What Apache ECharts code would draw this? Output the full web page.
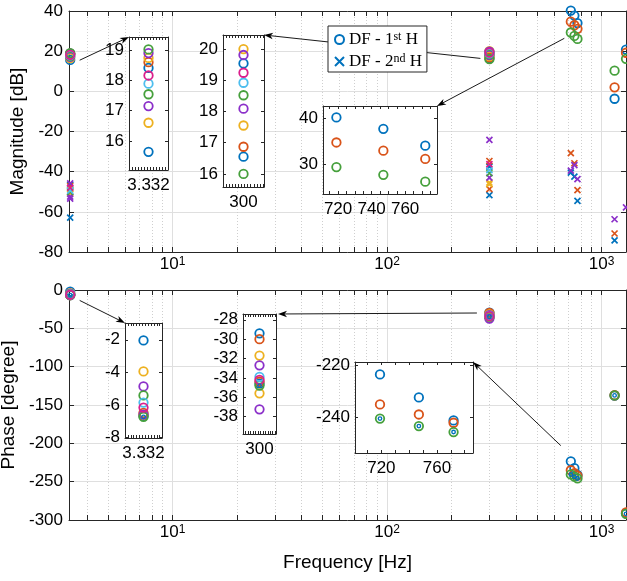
<!DOCTYPE html>
<html><head><meta charset="utf-8">
<script src="https://cdn.jsdelivr.net/npm/echarts@6/dist/echarts.min.js"></script>
<style>html,body{margin:0;padding:0;background:#fff}#c{width:627px;height:581px}</style>
</head><body><div id="c"></div>
<script>
// ---------------- data (frequency [Hz], value, run colour key) ----------------
const magH1 = [
  [3.332,15.64,'b'],[3.332,16.60,'y'],[3.332,17.15,'p'],[3.332,17.54,'g'],[3.332,17.89,'c'],[3.332,18.16,'m'],
  [3.332,18.41,'b'],[3.332,18.60,'o'],[3.332,18.74,'y'],[3.332,18.90,'p'],[3.332,19.02,'g'],
  [300,16.00,'g'],[300,16.55,'b'],[300,16.87,'o'],[300,17.55,'y'],[300,18.09,'p'],[300,18.52,'g'],
  [300,18.92,'c'],[300,19.24,'m'],[300,19.54,'b'],[300,19.81,'p'],[300,20.00,'y'],
  [719,40.2,'b'],[747,37.7,'b'],[772,34.0,'b'],
  [719,34.7,'o'],[747,32.9,'o'],[772,31.1,'o'],
  [719,29.3,'g'],[747,27.6,'g'],[772,26.1,'g'],
  [1150,-3.7,'b'],[1150,2.0,'o'],[1150,10.3,'g'],
  [1300,20.8,'b'],[1300,19.2,'o'],[1300,16.2,'g']
];
const magH2 = [
  [3.332,-45.8,'p'],[3.332,-46.6,'b'],[3.332,-47.2,'o'],[3.332,-48.0,'m'],[3.332,-48.7,'y'],[3.332,-49.4,'c'],
  [3.332,-50.1,'g'],[3.332,-50.8,'y'],[3.332,-52.4,'p'],[3.332,-53.4,'p'],[3.332,-62.9,'b'],
  [300,-24.2,'p'],[300,-34.7,'o'],[300,-36.2,'m'],[300,-37.5,'b'],[300,-39.2,'c'],[300,-40.8,'g'],
  [300,-43.0,'p'],[300,-45.4,'y'],[300,-46.2,'y'],[300,-48.7,'o'],[300,-51.7,'b'],
  [719,-30.8,'o'],[747,-35.8,'o'],[772,-49.2,'o'],
  [719,-40.5,'b'],[747,-42.5,'b'],[772,-54.5,'b'],
  [719,-39.5,'p'],[747,-36.7,'p'],[772,-43.7,'p'],
  [1150,-74.2,'b'],[1150,-70.8,'o'],[1150,-63.7,'p'],
  [1300,-57.8,'p']
];
const phaseH1 = [
  [3.332,-2.04,'b'],[3.332,-3.95,'y'],[3.332,-4.87,'p'],[3.332,-5.42,'g'],[3.332,-5.86,'c'],[3.332,-6.17,'m'],
  [3.332,-6.50,'o'],[3.332,-6.60,'p'],[3.332,-6.62,'y'],[3.332,-6.68,'b'],[3.332,-6.74,'g'],
  [300,-29.4,'b'],[300,-30.0,'o'],[300,-31.7,'y'],[300,-32.7,'p'],[300,-33.9,'c'],[300,-34.2,'m'],
  [300,-34.4,'o'],[300,-34.6,'b'],[300,-34.8,'g'],[300,-35.6,'y'],[300,-37.25,'p'],
  [719,-223.5,'b'],[747,-232.4,'b'],[772,-241.3,'b'],
  [719,-235.1,'o'],[747,-239.0,'o'],[772,-242.2,'o'],
  [719,-240.6,'g'],[747,-243.5,'g'],[772,-245.8,'g'],
  [1150,-137.6,'b'],[1150,-137.3,'o'],[1150,-137.5,'g'],
  [1300,-290.0,'o'],[1300,-291.5,'b'],[1300,-292.0,'g']
];
const phaseRef = [[3.332,-6.74],[300,-34.8],[719,-240.6],[747,-243.5],[772,-245.8],[1150,-137.5],[1300,-292.0]];

// ---------------- ticks / ranges ----------------
const freqRange = [3.29, 1300];
const decadeTicks = [10, 100, 1000];
const magTicks = [-80, -60, -40, -20, 0, 20, 40];
const phaseTicks = [-300, -250, -200, -150, -100, -50, 0];
const insetA_yTicks = [16, 17, 18, 19];
const insetB_yTicks = [16, 17, 18, 19, 20];
const insetC_yTicks = [30, 40];
const insetC_xLabels = [720, 740, 760];
const insetD_yTicks = [-8, -6, -4, -2];
const insetE_yTicks = [-38, -36, -34, -32, -30, -28];
const insetF_yTicks = [-240, -220];
const insetF_xLabels = [720, 760];

// ---------------- styles ----------------
const FONT = '"Liberation Sans", Arial, Helvetica, sans-serif';
const SERIF = '"Liberation Serif", "DejaVu Serif", serif';
const AXC = '#262626';
const palette = {b:'#0072BD', o:'#D95319', y:'#EDB120', p:'#8B2FC9', g:'#46A03C', c:'#4DBEEE', m:'#DB1E8C'};
const colorOrder = ['b','o','y','p','g','c','m'];
const majorSplit = {color:'#dfdfdf', width:1};
const minorSplit = {color:'#cfcfcf', width:1, type:[1,2]};
const LOG = Math.log10;
const X0 = LOG(freqRange[0]), X1 = LOG(freqRange[1]);
const majorX = decadeTicks.map(LOG);
const minorX = [];
[1, 10, 100, 1000].forEach(d => { for (let k = 2; k <= 9; k++) { const v = LOG(k * d); if (v > X0 && v < X1) minorX.push(v); } });
const range = (a, b, s) => { const r = []; for (let v = a; v <= b + 1e-9; v += s) r.push(+v.toFixed(4)); return r; };

const decRich = {
  b: {fontSize:17, fontFamily:FONT, color:'#000', verticalAlign:'bottom', lineHeight:17, padding:[4,0,0,0]},
  s: {fontSize:12, fontFamily:FONT, color:'#000', verticalAlign:'top', lineHeight:12}
};
const decFmt = v => '{b|10}{s|' + Math.round(v) + '}';

const grids = [], xAxes = [], yAxes = [], series = [];

function ax(gi, pos, o) {
  return {
    gridIndex: gi, type: 'value', position: pos, min: o.min, max: o.max, z: o.z || 0, silent: true,
    axisLine: {show: o.line !== false, onZero: false, lineStyle: {color: AXC, width: 1}},
    axisTick: o.ticks ? {show: true, inside: true, length: o.tickLen || 5, customValues: o.ticks, lineStyle: {color: AXC, width: 1}} : {show: false},
    axisLabel: o.labels ? {show: true, customValues: o.labels, formatter: o.fmt, margin: o.margin, color: '#000',
      fontSize: 17, fontFamily: FONT, rich: o.rich, hideOverlap: false} : {show: false},
    splitLine: o.split ? {show: true, lineStyle: o.split} : {show: false},
    minorTick: {show: false}, minorSplitLine: {show: false},
    name: o.name || '', nameLocation: 'middle', nameGap: o.nameGap || 0,
    nameTextStyle: {fontSize: 19, fontFamily: FONT, color: '#000'}
  };
}

function addGrid(rect, inset) {
  grids.push({left: rect[0], top: rect[1], width: rect[2], height: rect[3], show: inset, backgroundColor: '#fff',
    borderWidth: 0, z: inset ? 3 : 0, containLabel: false, outerBoundsMode: 'none'});
  return grids.length - 1;
}

function mainAxes(gi, ymin, ymax, yTicks, yName, yGap, xName) {
  const xi = xAxes.length;
  xAxes.push(ax(gi, 'bottom', {min: X0, max: X1, ticks: majorX, labels: majorX, fmt: decFmt, rich: decRich, margin: 4,
    split: majorSplit, name: xName, nameGap: 33}));
  xAxes.push(ax(gi, 'bottom', {min: X0, max: X1, line: false, ticks: minorX, split: minorSplit}));
  xAxes.push(ax(gi, 'top', {min: X0, max: X1, ticks: majorX}));
  xAxes.push(ax(gi, 'top', {min: X0, max: X1, line: false, ticks: minorX}));
  const yi = yAxes.length;
  yAxes.push(ax(gi, 'left', {min: ymin, max: ymax, ticks: yTicks, labels: yTicks, margin: 6, split: majorSplit, name: yName, nameGap: yGap}));
  yAxes.push(ax(gi, 'right', {min: ymin, max: ymax, ticks: yTicks}));
  return {gi, xi, yi};
}

function insetAxes(gi, def) {
  const xi = xAxes.length;
  xAxes.push(ax(gi, 'bottom', {min: def.x[0], max: def.x[1], ticks: def.xTicks, tickLen: 3, labels: def.xLabels,
    fmt: v => String(v), margin: 7, z: 4}));
  xAxes.push(ax(gi, 'top', {min: def.x[0], max: def.x[1], ticks: def.xTicks, tickLen: 3, z: 4}));
  const yi = yAxes.length;
  yAxes.push(ax(gi, 'left', {min: def.y[0], max: def.y[1], ticks: def.yTicks, tickLen: 3, labels: def.yTicks, margin: 5, z: 4}));
  yAxes.push(ax(gi, 'right', {min: def.y[0], max: def.y[1], ticks: def.yTicks, tickLen: 3, z: 4}));
  return {gi, xi, yi};
}

const CROSS = 'path://M0,0L10,10M10,0L0,10';
function addScatter(arr, cs, marker, tx, pick, z, namer) {
  colorOrder.forEach(k => {
    const pts = arr.filter(p => (p[2] === undefined ? 'b' : p[2]) === k && pick(p[0])).map(p => [tx(p[0]), p[1]]);
    if (!pts.length) return;
    const s = {type: 'scatter', name: namer(k), xAxisIndex: cs.xi, yAxisIndex: cs.yi, data: pts, z: z, clip: false,
      silent: true, animation: false};
    if (marker === 'o') Object.assign(s, {symbol: 'circle', symbolSize: 8.5,
      itemStyle: {color: 'rgba(0,0,0,0)', borderColor: palette[k], borderWidth: 1.8, opacity: 1}});
    else if (marker === 'x') Object.assign(s, {symbol: CROSS, symbolSize: 6,
      itemStyle: {color: 'rgba(0,0,0,0)', borderColor: palette[k], borderWidth: 1.7, opacity: 1}});
    else Object.assign(s, {symbol: 'circle', symbolSize: 3.5,
      itemStyle: {color: 'rgba(0,0,0,0)', borderColor: palette[k], borderWidth: 1.4, opacity: 1}});
    series.push(s);
  });
}

// main plots
const gMag = addGrid([69, 11, 557, 241], false);
const gPh = addGrid([69, 290, 557, 230], false);
const csMag = mainAxes(gMag, -80, 40, magTicks, 'Magnitude [dB]', 28, '');
const csPh = mainAxes(gPh, -300, 0, phaseTicks, 'Phase [degree]', 43, 'Frequency [Hz]');
const all = () => true;
addScatter(magH1, csMag, 'o', LOG, all, 2, k => k === 'b' ? 'DF - 1st H' : 'mag1-' + k);
addScatter(magH2, csMag, 'x', LOG, all, 2, k => k === 'b' ? 'DF - 2nd H' : 'mag2-' + k);
addScatter(phaseH1, csPh, 'o', LOG, all, 2, k => 'ph1-' + k);
addScatter(phaseRef, csPh, 'r', LOG, all, 2, k => 'phref');

// insets
const insetDefs = [
  {id: 'A', rect: [129, 37, 39, 133], x: [3.300, 3.364], y: [15.04, 19.43], yTicks: insetA_yTicks, xLabels: [3.332],
   xTicks: range(3.300, 3.364, 0.005), src: [magH1], pick: f => f === 3.332},
  {id: 'B', rect: [223, 35, 41, 152], x: [295, 305], y: [15.58, 20.45], yTicks: insetB_yTicks, xLabels: [300],
   xTicks: range(295, 305, 0.75), src: [magH1], pick: f => f === 300},
  {id: 'C', rect: [323, 106, 114, 88], x: [711, 779], y: [23.4, 42.7], yTicks: insetC_yTicks, xLabels: insetC_xLabels,
   xTicks: range(715, 775, 5), src: [magH1], pick: f => f > 700 && f < 800},
  {id: 'D', rect: [125, 323, 37, 115], x: [3.300, 3.364], y: [-8.04, -0.97], yTicks: insetD_yTicks, xLabels: [3.332],
   xTicks: range(3.300, 3.364, 0.005), src: [phaseH1, phaseRef], pick: f => f === 3.332},
  {id: 'E', rect: [243, 314, 33, 120], x: [295, 305], y: [-39.8, -27.4], yTicks: insetE_yTicks, xLabels: [300],
   xTicks: range(295, 305, 0.75), src: [phaseH1, phaseRef], pick: f => f === 300},
  {id: 'F', rect: [355, 362, 118, 91], x: [701, 786], y: [-253.9, -218.7], yTicks: insetF_yTicks, xLabels: insetF_xLabels,
   xTicks: range(710, 780, 10), src: [phaseH1, phaseRef], pick: f => f > 700 && f < 800}
];
const insetCs = {};
insetDefs.forEach(d => {
  const gi = addGrid(d.rect, true);
  const cs = insetAxes(gi, d);
  insetCs[d.id] = cs;
  addScatter(d.src[0], cs, 'o', v => v, d.pick, 5, k => 'in' + d.id + '-' + k);
  if (d.src[1]) addScatter(d.src[1], cs, 'r', v => v, d.pick, 5, k => 'in' + d.id + '-ref');
});

const legendRich = {
  n: {fontSize: 17, fontFamily: SERIF, color: '#000', verticalAlign: 'bottom', lineHeight: 17, padding: [3, 0, 0, 0]},
  s: {fontSize: 12, fontFamily: SERIF, color: '#000', verticalAlign: 'top', lineHeight: 12}
};

const option = {
  animation: false,
  backgroundColor: '#fff',
  grid: grids, xAxis: xAxes, yAxis: yAxes, series: series,
  legend: {
    show: true, left: 328, top: 26, orient: 'vertical', data: ['DF - 1st H', 'DF - 2nd H'],
    itemWidth: 9, itemHeight: 9, itemGap: 2, padding: [2, 5, 2, 6], borderColor: AXC, borderWidth: 1,
    backgroundColor: '#fff', borderRadius: 0, z: 10, selectedMode: false,
    formatter: n => n === 'DF - 1st H' ? '{n|DF - 1}{s|st}{n| H}' : '{n|DF - 2}{s|nd}{n| H}',
    textStyle: {rich: legendRich}
  }
};

const chart = echarts.init(document.getElementById('c'), null, {renderer: 'canvas', width: 627, height: 581});
chart.setOption(option);

// annotation arrows: from data clusters to the inset boxes
const P = (gi, x, y) => chart.convertToPixel({gridIndex: gi}, [x, y]);
function corner(id, which) {
  const d = insetDefs.find(e => e.id === id), gi = insetCs[id].gi;
  return P(gi, which === 'tl' ? d.x[0] : d.x[1], d.y[1]);
}
const off = (p, dx, dy) => [p[0] + dx, p[1] + dy];
function arrow(p0, p1) {
  const dx = p1[0] - p0[0], dy = p1[1] - p0[1], L = Math.hypot(dx, dy), ux = dx / L, uy = dy / L, nx = -uy, ny = ux;
  const head = 9, hw = 3.2, notch = 6.5;
  const bk = [p1[0] - ux * head, p1[1] - uy * head], nb = [p1[0] - ux * notch, p1[1] - uy * notch];
  return [
    {type: 'line', silent: true, z: 6, shape: {x1: p0[0], y1: p0[1], x2: nb[0], y2: nb[1]}, style: {stroke: '#000', lineWidth: 0.9}},
    {type: 'polygon', silent: true, z: 6, shape: {points: [p1, [bk[0] + nx * hw, bk[1] + ny * hw], nb, [bk[0] - nx * hw, bk[1] - ny * hw]]},
     style: {fill: '#000'}}
  ];
}
const arrows = [].concat(
  arrow(off(P(gMag, LOG(3.332), 15.5), 9.5, 0), corner('A', 'tl')),
  arrow(off(P(gMag, LOG(300), 16.4), -9, 0), corner('B', 'tr')),
  arrow(off(P(gMag, LOG(719), 26.4), -6.5, 0), corner('C', 'tr')),
  arrow(off(P(gPh, LOG(3.332), -13.6), 9.5, 0), corner('D', 'tl')),
  arrow(off(P(gPh, LOG(300), -30), -12.5, 0), off(corner('E', 'tr'), 2, 0)),
  arrow(off(P(gPh, LOG(719), -203), -10, 0), corner('F', 'tr'))
);
chart.setOption({graphic: {elements: arrows}});
</script></body></html>
